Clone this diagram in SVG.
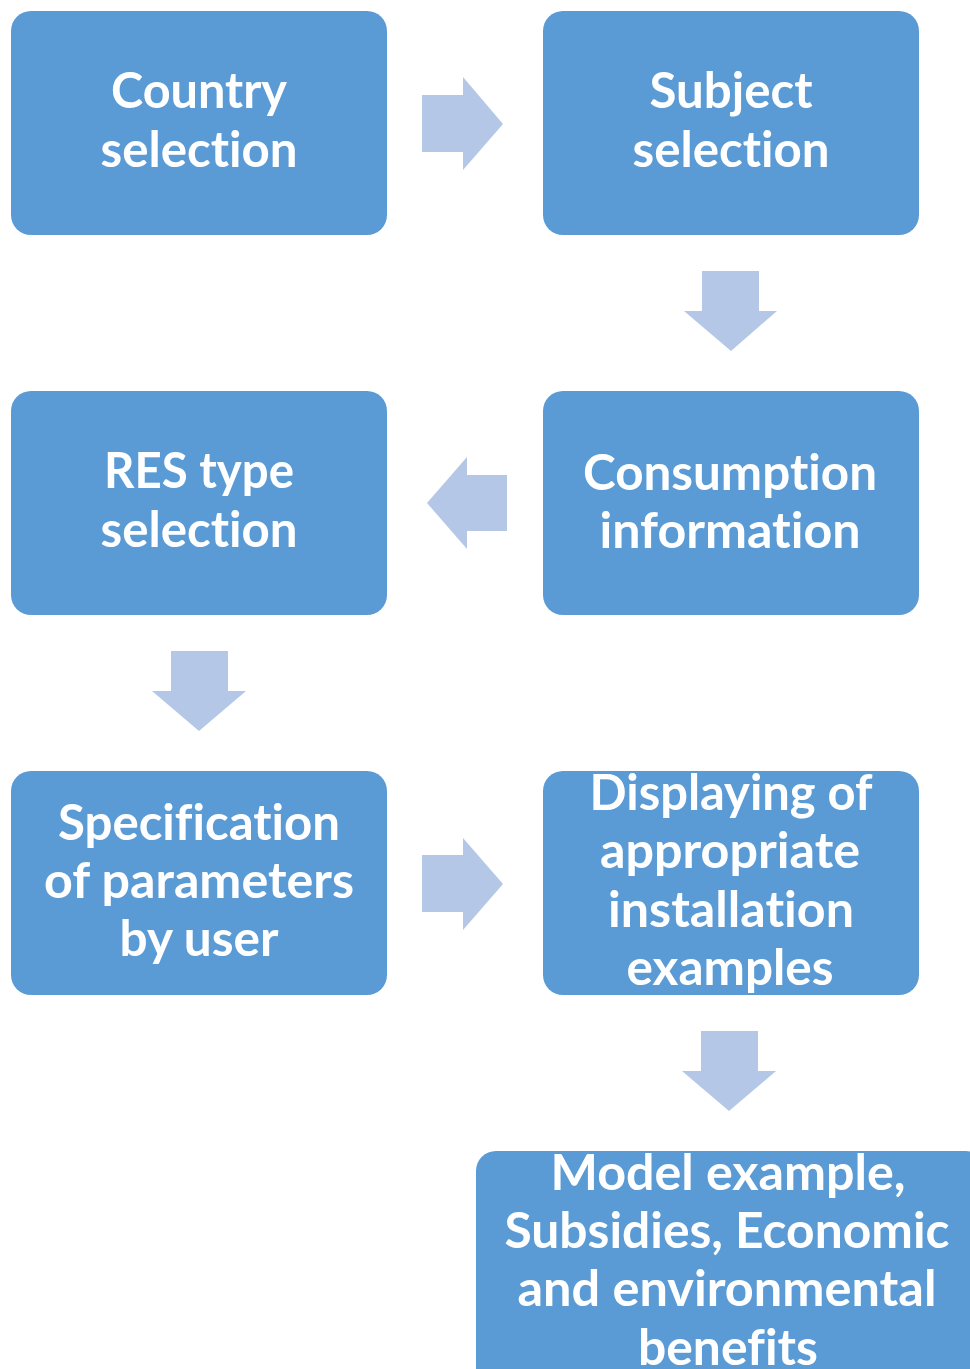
<svg xmlns="http://www.w3.org/2000/svg" width="970" height="1369" viewBox="0 0 970 1369">
<style>
.box{fill:#5B9BD5;}
.arr{fill:#B4C7E7;}
text{font-family:Lato,"Liberation Sans",sans-serif;font-weight:bold;font-size:50px;fill:#FFFFFF;text-anchor:middle;font-variant-ligatures:none;font-feature-settings:"liga" 0;}
</style>
<rect width="970" height="1369" fill="#FFFFFF"/>
<g id="connectors">
<polygon class="arr" points="422,95 463,95 463,77 503,124 463,170 463,152 422,152"/>
<polygon class="arr" points="702,271 759,271 759,311 777,311 731,351 684,311 702,311"/>
<polygon class="arr" points="507,475 467,475 467,457 427,503 467,549 467,531 507,531"/>
<polygon class="arr" points="171,651 228,651 228,691 246,691 199,731 152,691 171,691"/>
<polygon class="arr" points="422,855 463,855 463,838 503,884 463,930 463,912 422,912"/>
<polygon class="arr" points="701,1031 758,1031 758,1071 776,1071 729,1111 682,1071 701,1071"/>
</g>
<g id="country">
<rect class="box" x="11" y="11" width="376" height="224" rx="20"/>
<text x="199" y="108" textLength="176" lengthAdjust="spacingAndGlyphs">Country</text>
<text x="199" y="167" textLength="197" lengthAdjust="spacingAndGlyphs">selection</text>
</g>
<g id="subject">
<rect class="box" x="543" y="11" width="376" height="224" rx="20"/>
<text x="731" y="108" textLength="163" lengthAdjust="spacingAndGlyphs">Subject</text>
<text x="731" y="167" textLength="197" lengthAdjust="spacingAndGlyphs">selection</text>
</g>
<g id="res">
<rect class="box" x="11" y="391" width="376" height="224" rx="20"/>
<text x="199" y="488" textLength="190" lengthAdjust="spacingAndGlyphs">RES type</text>
<text x="199" y="547" textLength="197" lengthAdjust="spacingAndGlyphs">selection</text>
</g>
<g id="consumption">
<rect class="box" x="543" y="391" width="376" height="224" rx="20"/>
<text x="730" y="490" textLength="294" lengthAdjust="spacingAndGlyphs">Consumption</text>
<text x="730" y="548" textLength="261" lengthAdjust="spacingAndGlyphs">information</text>
</g>
<g id="specification">
<rect class="box" x="11" y="771" width="376" height="224" rx="20"/>
<text x="199" y="840" textLength="282" lengthAdjust="spacingAndGlyphs">Specification</text>
<text x="199" y="898" textLength="310" lengthAdjust="spacingAndGlyphs">of parameters</text>
<text x="199" y="956" textLength="159" lengthAdjust="spacingAndGlyphs">by user</text>
</g>
<g id="displaying">
<rect class="box" x="543" y="771" width="376" height="224" rx="20"/>
<text x="731" y="810" textLength="283" lengthAdjust="spacingAndGlyphs">Displaying of</text>
<text x="730" y="868" textLength="260" lengthAdjust="spacingAndGlyphs">appropriate</text>
<text x="731" y="927" textLength="246" lengthAdjust="spacingAndGlyphs">installation</text>
<text x="730" y="985" textLength="207" lengthAdjust="spacingAndGlyphs">examples</text>
</g>
<g id="model">
<rect class="box" x="476" y="1151" width="510" height="240" rx="20"/>
<text x="728" y="1190" textLength="355" lengthAdjust="spacingAndGlyphs">Model example,</text>
<text x="727" y="1248" textLength="445" lengthAdjust="spacingAndGlyphs">Subsidies, Economic</text>
<text x="727" y="1306" textLength="419" lengthAdjust="spacingAndGlyphs">and environmental</text>
<text x="728" y="1365" textLength="180" lengthAdjust="spacingAndGlyphs">benefits</text>
</g>
</svg>
